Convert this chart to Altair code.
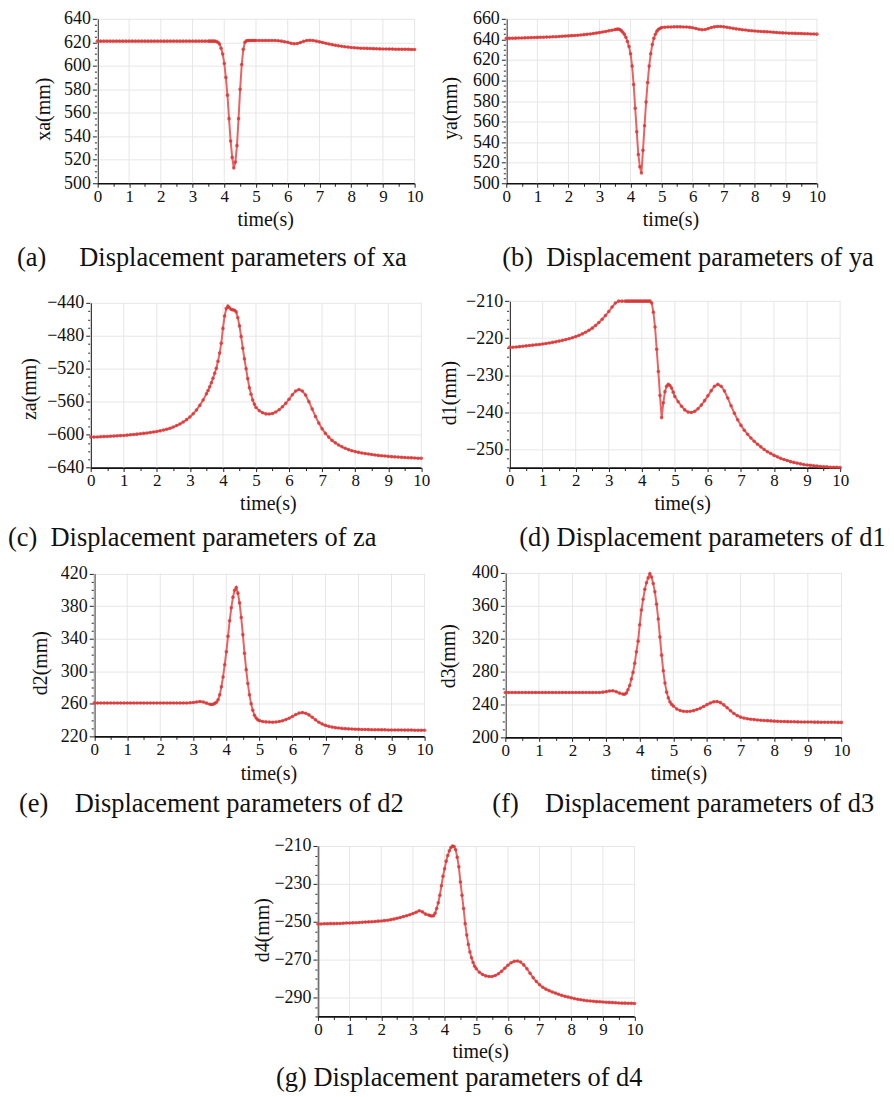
import altair as alt
import pandas as pd

# sampling instants (s): 0.1 s steps, 0.05 s steps around the transient, 0.1 s steps after
T = ([round(i * 0.1, 2) for i in range(35)]
     + [round(3.5 + i * 0.05, 2) for i in range(30)]
     + [round(5.0 + i * 0.1, 2) for i in range(51)])

XA = [621, 621, 621, 621, 621, 621, 621, 621, 621, 621, 621, 621, 621, 621, 621, 621, 621, 621,
      621, 621, 621, 621, 621, 621, 621, 621, 621, 621, 621, 621, 621, 621, 621, 621, 621,
      621, 621, 621, 621, 621, 620.6, 620, 618.5, 615, 610, 602, 590, 575, 555, 536, 522, 513,
      518, 532, 555, 580, 601, 614, 620, 621.3, 621.5, 621.5, 621.5, 621.5, 621.5,
      621.5, 621.5, 621.5, 621.5, 621.5, 621.5, 621.5, 621.3, 621, 620.5, 620, 619.2, 618.8, 619,
      619.8, 620.8, 621.5, 621.7, 621.5, 621, 620.4, 619.8, 619.2, 618.6, 618, 617.5, 617, 616.6,
      616.2, 615.9, 615.6, 615.4, 615.2, 615, 614.9, 614.8, 614.7, 614.6, 614.5, 614.4, 614.3,
      614.3, 614.2, 614.2, 614.1, 614.1, 614, 614, 614, 613.9, 613.9]

YA = [641, 641, 641.1, 641.2, 641.3, 641.4, 641.5, 641.6, 641.7, 641.8, 641.9, 642, 642.1, 642.2,
      642.3, 642.5, 642.6, 642.8, 643, 643.2, 643.4, 643.6, 643.8, 644, 644.3, 644.6, 644.9, 645.3,
      645.7, 646.1, 646.6, 647.1, 647.7, 648.3, 648.9,
      649.5, 649.8, 650, 649.6, 648.5, 647, 645, 642, 638, 633, 626, 614, 596, 573, 550, 528, 516,
      510, 532, 556, 579, 598, 614, 626, 635, 641, 645, 648, 649.8, 650.6,
      651.5, 651.8, 652, 652.1, 652.2, 652.2, 652.2, 652.1, 652, 651.7, 651.3, 650.6, 649.8, 649.3,
      649.6, 650.5, 651.5, 652.2, 652.6, 652.5, 652.2, 651.7, 651.2, 650.7, 650.2, 649.8, 649.4,
      649.1, 648.7, 648.4, 648.1, 647.9, 647.7, 647.5, 647.3, 647.1, 646.9, 646.7, 646.5, 646.3,
      646.2, 646, 645.9, 645.8, 645.7, 645.6, 645.5, 645.4, 645.3, 645.2, 645.1]

ZA = [-603, -603, -602.8, -602.6, -602.4, -602.2, -602, -601.8, -601.5, -601.2, -601, -600.6,
      -600.2, -599.8, -599.4, -599, -598.5, -598, -597.4, -596.8, -596.2, -595.4, -594.5, -593.4,
      -592.2, -590.8, -589, -587, -584.6, -581.8, -578.5, -574.6, -570, -564.5, -558,
      -550.5, -546.5, -542, -537, -531.5, -525.5, -519.5, -511, -501, -489, -471, -456, -447, -444,
      -446, -448, -448.5, -449, -451, -458, -468, -481, -495, -508, -520, -532, -543, -551, -558,
      -563,
      -567, -571, -573.5, -574.8, -575, -574.3, -572.5, -569.8, -566.2, -562, -557, -551.5, -547,
      -545.2, -547, -552, -560, -569, -578, -586, -593, -598.5, -603, -607, -610, -612.6, -614.8,
      -616.6, -618.2, -619.5, -620.6, -621.5, -622.3, -623, -623.6, -624.2, -624.7, -625.2, -625.6,
      -626, -626.4, -626.7, -627, -627.3, -627.6, -627.8, -628, -628.2, -628.4, -628.6, -628.7]

D1 = [-222.5, -222.45, -222.4, -222.3, -222.2, -222.1, -222, -221.9, -221.8, -221.7, -221.6,
      -221.45, -221.3, -221.15, -221, -220.8, -220.6, -220.4, -220.15, -219.9, -219.6, -219.25,
      -218.85, -218.4, -217.9, -217.3, -216.6, -215.8, -214.9, -213.9, -212.8, -211.6, -210.5,
      -210, -210,
      -210, -210, -210, -210, -210, -210, -210, -210, -210, -210, -210, -210, -210, -210, -210,
      -210, -210.5, -213, -217, -223, -229, -235.5, -241.5, -237.5, -234.5, -233, -232.5, -232.8,
      -233.5, -234.6,
      -235.8, -237.2, -238.4, -239.4, -240, -240.1, -239.8, -239.1, -238.1, -236.9, -235.6, -234.2,
      -233, -232.5, -233, -234.3, -236.2, -238.3, -240.3, -242.1, -243.6, -244.9, -246, -247,
      -247.9, -248.7, -249.4, -250.1, -250.7, -251.2, -251.7, -252.1, -252.5, -252.8, -253.1,
      -253.4, -253.6, -253.8, -254, -254.2, -254.3, -254.4, -254.5, -254.6, -254.7, -254.8, -254.8,
      -254.9, -254.9, -254.9, -255]

D2 = [261, 261, 261, 261, 261, 261, 261, 261, 261, 261, 261, 261, 261, 261, 261, 261, 261, 261,
      261, 261, 261, 261, 261, 261, 261, 261, 261, 261, 261, 261.3, 261.7, 262.3, 262.8, 262.2,
      260.8,
      259.5, 259.2, 259.5, 260.5, 262, 265, 271, 281, 293, 308, 324, 343, 362, 378, 391, 399.5,
      403, 396, 384, 366, 345, 322, 302, 285, 271, 260, 252, 246, 242.5, 240.5,
      239.3, 238.3, 237.8, 237.5, 237.4, 237.6, 238.2, 239.2, 240.6, 242.3, 244.5, 246.8, 248.6,
      249.2, 248.4, 246.4, 243.5, 240.3, 237.4, 235.2, 233.5, 232.3, 231.4, 230.7, 230.2, 229.8,
      229.5, 229.2, 229, 228.8, 228.6, 228.5, 228.4, 228.3, 228.2, 228.1, 228.1, 228, 228, 227.9,
      227.9, 227.8, 227.8, 227.8, 227.7, 227.7, 227.7, 227.6, 227.6, 227.6, 227.6]

D3 = [254.5, 254.5, 254.5, 254.5, 254.5, 254.5, 254.5, 254.5, 254.5, 254.5, 254.5, 254.5, 254.5,
      254.5, 254.5, 254.5, 254.5, 254.5, 254.5, 254.5, 254.5, 254.5, 254.5, 254.5, 254.5, 254.5,
      254.5, 254.5, 254.5, 255, 255.6, 256.3, 256.7, 255.5, 253.8,
      252.6, 252.5, 254, 258, 263, 271, 279, 290, 304, 317, 337, 355, 368, 380, 388, 394, 399,
      395, 387, 377, 362, 344, 322, 300, 281, 266, 255, 248, 243, 240,
      238, 234.5, 232.6, 231.8, 231.5, 231.7, 232.5, 233.8, 235.5, 237.6, 239.8, 241.8, 243.2,
      243.5, 242.2, 239.5, 236, 232.3, 229, 226.4, 224.6, 223.4, 222.6, 222, 221.6, 221.2, 220.9,
      220.6, 220.3, 220, 219.7, 219.5, 219.3, 219.2, 219.1, 219, 218.9, 218.8, 218.7, 218.7,
      218.6, 218.6, 218.5, 218.5, 218.4, 218.4, 218.3, 218.3, 218.3, 218.2, 218.2]

D4 = [-251.2, -251.2, -251.1, -251.1, -251, -251, -250.9, -250.9, -250.8, -250.7, -250.7, -250.6,
      -250.5, -250.4, -250.3, -250.2, -250.1, -250, -249.9, -249.7, -249.6, -249.4, -249.2,
      -248.9, -248.6, -248.2, -247.8, -247.3, -246.8, -246.3, -245.7, -245, -244.2, -244.8, -246,
      -246.5, -246.8, -247, -246.8, -245.5, -243, -240, -236, -231, -226, -222, -218, -215,
      -212.5, -210.8, -210, -210.3, -212, -216, -221, -229, -236, -243, -251, -257, -262, -266,
      -269, -271.5, -273.5,
      -274.8, -276.7, -277.9, -278.6, -278.9, -278.9, -278.4, -277.5, -276.2, -274.6, -273, -271.7,
      -270.9, -270.7, -271.3, -272.8, -274.8, -277.2, -279.6, -281.6, -283.3, -284.6, -285.6,
      -286.4, -287.1, -287.7, -288.3, -288.9, -289.4, -289.8, -290.2, -290.6, -290.9, -291.2,
      -291.5, -291.7, -291.9, -292, -292.2, -292.3, -292.4, -292.5, -292.6, -292.7, -292.8,
      -292.9, -293, -293, -293.1, -293.1, -293.2]

Y_TITLES = ["xa(mm)", "ya(mm)", "za(mm)", "d1(mm)", "d2(mm)", "d3(mm)", "d4(mm)"]
CAPTIONS = ["(a)\u2003 Displacement parameters of xa",
            "(b)\u2002Displacement parameters of ya",
            "(c)\u2002Displacement parameters of za",
            "(d) Displacement parameters of d1",
            "(e)\u2003Displacement parameters of d2",
            "(f)\u2003Displacement parameters of d3",
            "(g) Displacement parameters of d4"]
SERIES = [XA, YA, ZA, D1, D2, D3, D4]
# y domain, major-tick anchor, major step, minor step
Y_AXES = [([500, 640], 500, 20, 5), ([500, 660], 500, 20, 5), ([-640, -440], -640, 40, 10),
          ([-255, -210], -210, 10, 2.5), ([220, 420], 220, 40, 10), ([200, 400], 200, 40, 10),
          ([-300, -210], -210, 20, 5)]
X_TICKS = [i * 0.5 for i in range(21)]
X_GRID = [0, 1, 2, 3, 4, 5, 6, 7, 8, 9, 10]

# layout (pixels inside the chart)
W, H = 878, 1081
LAYOUT = [
    dict(xr=[89.7, 408], yr=[171, 6], ytx=-48.2, yty=96.2, xtx=258, xty=42, cx=9, cy=253.7),
    dict(xr=[500, 811.7], yr=[171, 6], ytx=-50, yty=95.3, xtx=664.8, xty=42, cx=496, cy=253.7),
    dict(xr=[83, 414.7], yr=[456.3, 291], ytx=-55.5, yty=377, xtx=260.7, xty=42, cx=0, cy=535),
    dict(xr=[503.3, 835], yr=[456.3, 289.3], ytx=-54.5, yty=381, xtx=676.5, xty=42.5, cx=513, cy=535),
    dict(xr=[86.5, 418], yr=[726, 562.7], ytx=-48.3, yty=652, xtx=261.3, xty=43, cx=11, cy=802),
    dict(xr=[499, 836.3], yr=[727, 562], ytx=-50.5, yty=645, xtx=672.7, xty=42, cx=486, cy=802),
    dict(xr=[311, 628.7], yr=[1007, 836], ytx=-49.5, yty=920, xtx=473.8, xty=41.5, cx=269, cy=1076.5),
]

FONT = "Liberation Serif"
LINE_COLOR = "#ec6262"
DOT_COLOR = "#d83434"
GRID_COLOR = "#e6e6e6"

common_axis = dict(
    labelFont=FONT, labelColor="#111",
    titleFont=FONT, titleFontSize=20, titleFontWeight="normal", titleColor="#111",
    domainColor="#111", domainWidth=1.6, tickColor="#222", tickWidth=1,
    labelOverlap=False, labelFlush=False,
    titleBaseline="alphabetic", titleAlign="center",
)

panels = []
for vals, ytitle, cap, (ydom, base, major, minor), lay in zip(SERIES, Y_TITLES, CAPTIONS, Y_AXES, LAYOUT):
    df = pd.DataFrame({"t": T, "v": vals})
    nminor = int(round((ydom[1] - ydom[0]) / minor))
    yvals = [ydom[0] + k * minor for k in range(nminor + 1)]
    is_minor_y = f"abs((datum.value - ({base})) % {major}) > 0.001"
    is_minor_x = "abs(datum.value % 1) > 0.001"

    xaxis = alt.Axis(
        orient="bottom", offset=lay["yr"][0] - H, values=X_TICKS, format=".0f",
        labelExpr=f"{is_minor_x} ? '' : datum.label",
        tickSize={"condition": {"test": is_minor_x, "value": 3}, "value": 4},
        grid=False, labelPadding=1, labelFontSize=17,
        title="time(s)", titleX=lay["xtx"], titleY=lay["xty"],
        **common_axis,
    )
    yaxis = alt.Axis(
        orient="left", offset=-lay["xr"][0], values=yvals, format=".0f",
        labelExpr=f"{is_minor_y} ? '' : datum.label",
        tickSize={"condition": {"test": is_minor_y, "value": 3}, "value": 5},
        grid=True, gridColor=GRID_COLOR, gridWidth=1,
        gridOpacity={"condition": {"test": is_minor_y, "value": 0}, "value": 1},
        labelPadding=2, labelFontSize=18,
        title=ytitle, titleX=lay["ytx"], titleY=lay["yty"], titleAngle=270,
        **common_axis,
    )
    xscale = alt.Scale(domain=[0, 10], range=lay["xr"], nice=False, zero=False)
    yscale = alt.Scale(domain=ydom, range=lay["yr"], nice=False, zero=False)

    vgrid = alt.Chart(pd.DataFrame({"t": X_GRID})).mark_rule(color=GRID_COLOR, strokeWidth=1).encode(
        x=alt.X("t:Q", scale=xscale, axis=xaxis),
        y=alt.Y(datum=ydom[0], type="quantitative", scale=yscale, axis=yaxis),
        y2=alt.Y2(datum=ydom[1]),
    )
    base_chart = alt.Chart(df).encode(
        x=alt.X("t:Q", scale=xscale, axis=xaxis),
        y=alt.Y("v:Q", scale=yscale, axis=yaxis),
    )
    line = base_chart.mark_line(color=LINE_COLOR, strokeWidth=2)
    dots = base_chart.mark_point(filled=True, size=13, color=DOT_COLOR, opacity=0.8)
    caption = alt.Chart(pd.DataFrame({"c": [cap]})).mark_text(
        font=FONT, fontSize=26.5, align="left", baseline="alphabetic", color="#111"
    ).encode(text="c:N", x=alt.value(lay["cx"]), y=alt.value(lay["cy"]))
    panels.append(alt.layer(vgrid, line, dots, caption))

chart = (
    alt.layer(*panels)
    .resolve_scale(x="independent", y="independent")
    .resolve_axis(x="independent", y="independent")
    .properties(width=W, height=H, padding=0, background="white")
    .configure_view(stroke="transparent")
)

chart.save("out.html", embed_options={"renderer": "svg", "actions": False})
